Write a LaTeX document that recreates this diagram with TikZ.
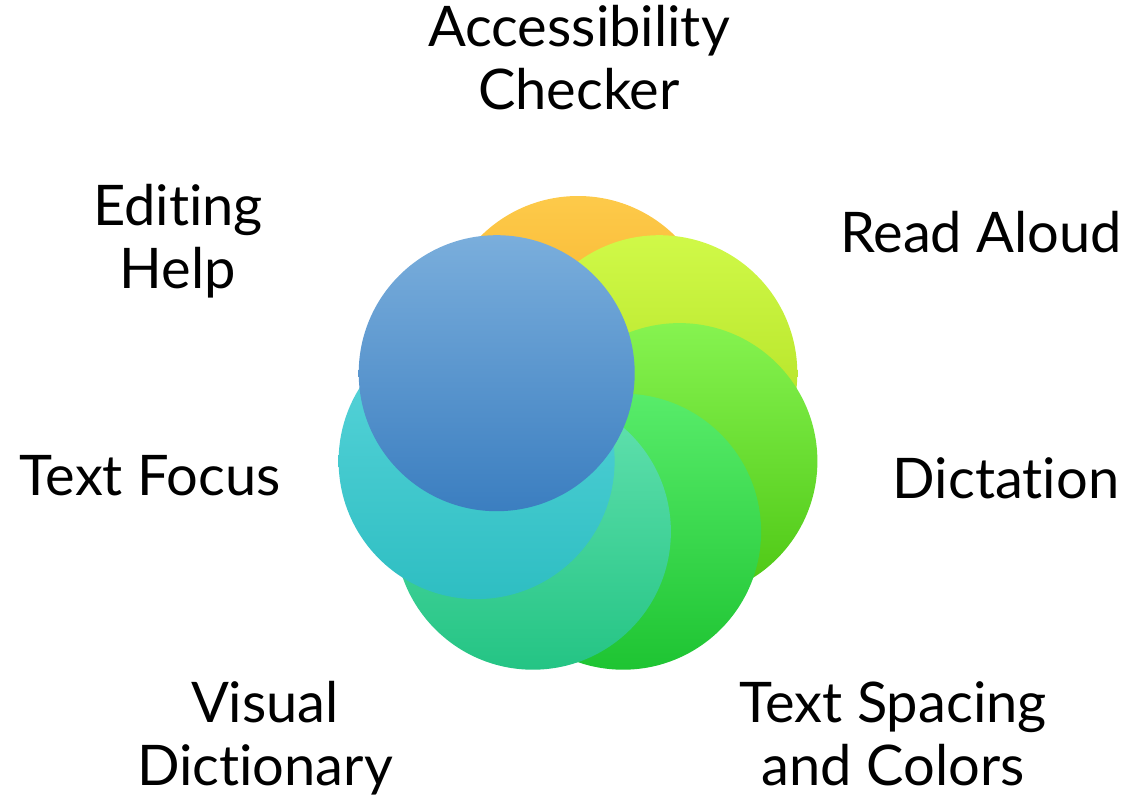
\documentclass[tikz,border=0pt]{standalone}
\usepackage{fontspec}
\setmainfont{Lato}[RawFeature=-liga]
\begin{document}
\begin{tikzpicture}[x=1pt,y=-1pt,
  petal/.style={circle, minimum size=276pt, inner sep=0pt, shading=axis, shading angle=0},
  lbl/.style={font=\fontsize{56}{63}\selectfont, align=center, anchor=base, inner sep=0pt}]
\useasboundingbox (0,0) rectangle (1130,800);
\node[petal, top color={rgb,255:red,253;green,202;blue,74}, bottom color={rgb,255:red,244;green,160;blue,20}] (c1) at (578,334) {};
\node[petal, top color={rgb,255:red,208;green,249;blue,72}, bottom color={rgb,255:red,168;green,216;blue,24}] (c2) at (659.3,373.2) {};
\node[petal, top color={rgb,255:red,134;green,243;blue,80}, bottom color={rgb,255:red,76;green,198;blue,18}] (c3) at (679.4,461.1) {};
\node[petal, top color={rgb,255:red,88;green,236;blue,106}, bottom color={rgb,255:red,30;green,196;blue,50}] (c4) at (623.1,531.7) {};
\node[petal, top color={rgb,255:red,100;green,226;blue,176}, bottom color={rgb,255:red,36;green,196;blue,132}] (c5) at (532.9,531.7) {};
\node[petal, top color={rgb,255:red,92;green,214;blue,220}, bottom color={rgb,255:red,46;green,190;blue,194}] (c6) at (476.6,461.1) {};
\node[petal, top color={rgb,255:red,122;green,174;blue,220}, bottom color={rgb,255:red,59;green,126;blue,192}] (c7) at (496.7,373.2) {};
\node[lbl] (t1) at (579,110) {Accessibility\\Checker};
\node[lbl] (t2) at (981,252) {Read Aloud};
\node[lbl] (t3) at (1006,498) {Dictation};
\node[lbl] (t4) at (893,785) {Text Spacing\\and Colors};
\node[lbl] (t5) at (265,785) {Visual\\Dictionary};
\node[lbl] (t6) at (150,495) {Text Focus};
\node[lbl] (t7) at (178,288) {Editing\\Help};
\end{tikzpicture}
\end{document}
